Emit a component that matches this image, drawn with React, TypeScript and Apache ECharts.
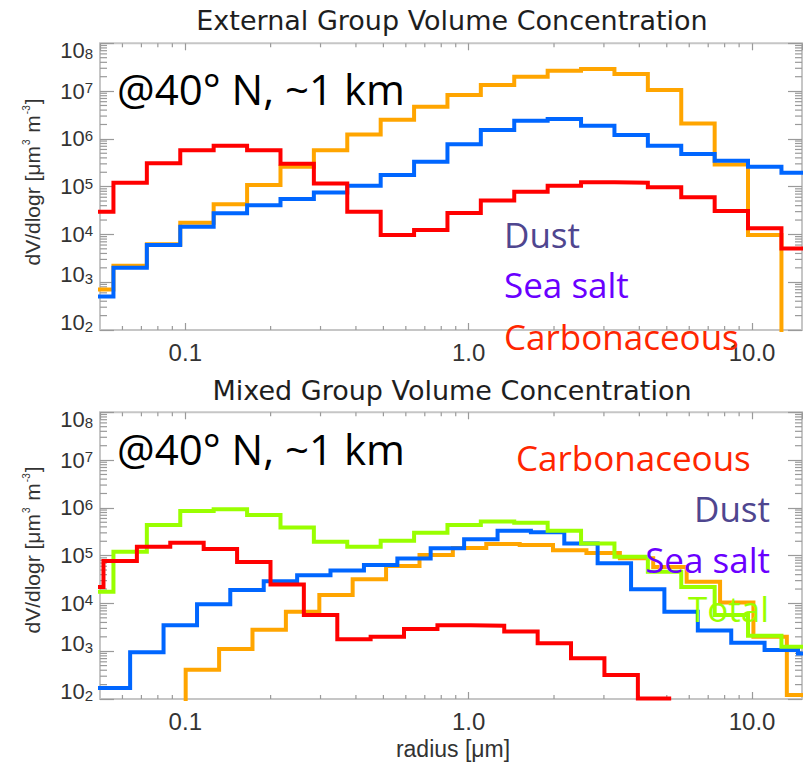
import React, { useEffect, useRef } from 'react';
import * as echarts from 'echarts';

// ---------- axis extents ----------
const xMin = 0.05;
const xMax = 15;
const yMin = 1e2;
const yMax = 1e8;

// ---------- tick values ----------
const xMinorTicks = [0.06, 0.07, 0.08, 0.09, 0.2, 0.3, 0.4, 0.5, 0.6, 0.7, 0.8, 0.9, 2, 3, 4, 5, 6, 7, 8, 9];
const yMinorMantissas = [2, 3, 4, 5, 6, 7, 8, 9];
const yDecades = [1e2, 1e3, 1e4, 1e5, 1e6, 1e7];

// ---------- External group (top panel) ----------
const extEdges = [0.04251, 0.05577, 0.07316, 0.09598, 0.1259, 0.1652, 0.2167, 0.2842, 0.3728, 0.4891, 0.6416, 0.8414, 1.1035, 1.4477, 1.8992, 2.4912, 3.2679, 4.2871, 5.6232, 7.3777, 9.6745, 12.693, 16.65];
const extDust = [700, 2200, 6200, 17600, 43000, 108000, 260000, 580000, 1240000, 2500000, 4700000, 8300000, 13400000, 20000000, 26700000, 29000000, 22800000, 10500000, 2100000, 290000, 9700, 1];
const extSeaSalt = [500, 2000, 6000, 14500, 27700, 41000, 55000, 75000, 105000, 175000, 330000, 770000, 1530000, 2400000, 2600000, 1890000, 1200000, 720000, 480000, 350000, 260000, 196000];
const extCarb = [30000, 121000, 310000, 580000, 720000, 580000, 300000, 117000, 30000, 9700, 12400, 28000, 51000, 78000, 105000, 123000, 121000, 97000, 60000, 31000, 13400, 5100];

// ---------- Mixed group (bottom panel) ----------
const mixTotalEdges = [0.04251, 0.05577, 0.07316, 0.09598, 0.1259, 0.1652, 0.2167, 0.2842, 0.3728, 0.4891, 0.6416, 0.8414, 1.1035, 1.4477, 1.8992, 2.4912, 3.2679, 4.2871, 5.6232, 7.3777, 9.6745, 12.693, 16.65];
const mixTotal = [17600, 121000, 440000, 860000, 930000, 710000, 390000, 196000, 154000, 206000, 300000, 440000, 520000, 490000, 330000, 180000, 95000, 46000, 22000, 5700, 2100, 1240];
const mixCarbEdges = [0.0392, 0.05143, 0.06747, 0.08849, 0.1161, 0.1523, 0.1998, 0.262, 0.3438, 0.4507, 0.5912, 0.7757, 1.0171, 1.3346, 1.751, 2.2961, 3.0124, 3.9532, 5.182];
const mixCarb = [22000, 77000, 154000, 187000, 138000, 74000, 25000, 5700, 1770, 2000, 2900, 3500, 3400, 2600, 1460, 710, 318, 102];
const mixSeaSaltEdges = [0.04866, 0.06387, 0.08379, 0.11, 0.1441, 0.1891, 0.2481, 0.3253, 0.4269, 0.5601, 0.7341, 0.9634, 1.2643, 1.6574, 2.1742, 2.8505, 3.7402, 4.9034, 6.4345, 8.4408, 11.066, 14.521, 19.055];
const mixSeaSalt = [170, 950, 3500, 9600, 19000, 29000, 39000, 49000, 64000, 87000, 142000, 220000, 330000, 310000, 180000, 69000, 19700, 6700, 2700, 1500, 1060, 900];
const mixDustEdges = [0.0765, 0.1003, 0.1316, 0.1726, 0.2264, 0.2971, 0.3895, 0.511, 0.6705, 0.879, 1.1534, 1.5135, 1.9839, 2.6027, 3.4155, 4.4781, 5.8749, 7.709, 10.107, 13.262, 17.4];
const mixDust = [1, 410, 1110, 2800, 6700, 15000, 32000, 61000, 103000, 145000, 175000, 167000, 130000, 113000, 88000, 58000, 28500, 10400, 2000, 121];

const COLORS = {
  dust: '#FFA500',
  seaSalt: '#0066FF',
  carb: '#FF0000',
  total: '#99FF00',
};

function stepPoints(edges: number[], values: number[]) {
  const pts: number[][] = values.map((v, i) => [edges[i], v]);
  pts.push([edges[values.length], values[values.length - 1]]);
  return pts;
}

const TICK_COLOR = '#9a9a9a';
const LABEL_COLOR = '#333';

function lineSeries(name: string, color: string, edges: number[], values: number[], gi: number, z: number) {
  return {
    type: 'line',
    name,
    step: 'end',
    xAxisIndex: gi * 2,
    yAxisIndex: gi * 2,
    data: stepPoints(edges, values),
    symbol: 'none',
    showSymbol: false,
    clip: true,
    z,
    lineStyle: { color, width: 4, cap: 'butt', join: 'miter' },
    emphasis: { disabled: true },
  };
}

function xMinorSeries(gi: number) {
  return {
    type: 'custom',
    xAxisIndex: gi * 2,
    yAxisIndex: gi * 2,
    silent: true,
    z: 1,
    data: xMinorTicks.map((v) => [v, 1000]),
    renderItem: (params: any, api: any) => {
      const cs = params.coordSys;
      const px = api.coord([api.value(0), api.value(1)])[0];
      const st = { stroke: TICK_COLOR, lineWidth: 1.2 };
      return {
        type: 'group',
        children: [
          { type: 'line', shape: { x1: px, y1: cs.y + cs.height, x2: px, y2: cs.y + cs.height - 4 }, style: st },
          { type: 'line', shape: { x1: px, y1: cs.y, x2: px, y2: cs.y + 4 }, style: st },
        ],
      };
    },
  };
}

function yMinorSeries(gi: number) {
  const vals: number[][] = [];
  yDecades.forEach((d) => yMinorMantissas.forEach((m) => vals.push([1, m * d])));
  return {
    type: 'custom',
    xAxisIndex: gi * 2,
    yAxisIndex: gi * 2,
    silent: true,
    z: 1,
    data: vals,
    renderItem: (params: any, api: any) => {
      const cs = params.coordSys;
      const py = api.coord([api.value(0), api.value(1)])[1];
      const st = { stroke: TICK_COLOR, lineWidth: 1.2 };
      return {
        type: 'group',
        children: [
          { type: 'line', shape: { x1: cs.x, y1: py, x2: cs.x + 7, y2: py }, style: st },
          { type: 'line', shape: { x1: cs.x + cs.width, y1: py, x2: cs.x + cs.width - 7, y2: py }, style: st },
        ],
      };
    },
  };
}

const yRich = {
  n: { fontSize: 22, fontFamily: 'Liberation Sans', color: LABEL_COLOR, lineHeight: 22 },
  s: { fontSize: 15, fontFamily: 'Liberation Sans', color: LABEL_COLOR, verticalAlign: 'top', lineHeight: 15 },
  nd: { fontSize: 22, fontFamily: 'Liberation Sans', color: LABEL_COLOR, lineHeight: 22, padding: [14, 0, 0, 0] },
  sd: { fontSize: 15, fontFamily: 'Liberation Sans', color: LABEL_COLOR, verticalAlign: 'top', lineHeight: 15, padding: [14, 0, 0, 0] },
  nu: { fontSize: 22, fontFamily: 'Liberation Sans', color: LABEL_COLOR, lineHeight: 22, padding: [0, 0, 16, 0] },
  su: { fontSize: 15, fontFamily: 'Liberation Sans', color: LABEL_COLOR, verticalAlign: 'top', lineHeight: 15, padding: [0, 0, 16, 0] },
};

function yLabelFormatter(v: number) {
  const e = Math.round(Math.log10(v));
  const k = e === 8 ? 'd' : e <= 3 ? 'u' : '';
  return `{n${k}|10}{s${k}|${e}}`;
}

export default function App() {
  const ref = useRef<HTMLDivElement>(null);
  useEffect(() => {
    if (!ref.current) return;
    const chart = echarts.init(ref.current, null, { renderer: 'svg' });
    const gridTops = [43.3, 412.3];
    const grid = gridTops.map((t) => ({
      left: 100,
      top: t,
      width: 702,
      height: 286.7,
      show: true,
      borderColor: '#c6c6c6',
      borderWidth: 2,
      backgroundColor: 'transparent',
      containLabel: false,
    }));
    const xAxis: any[] = [];
    const yAxis: any[] = [];
    [0, 1].forEach((gi) => {
      xAxis.push({
        type: 'log',
        logBase: 10,
        gridIndex: gi,
        position: 'bottom',
        min: xMin,
        max: xMax,
        axisLine: { show: false },
        splitLine: { show: false },
        axisTick: { show: true, inside: true, length: 7, lineStyle: { color: TICK_COLOR, width: 1.2 } },
        axisLabel: {
          show: true,
          margin: 10,
          fontSize: 24,
          fontFamily: 'Liberation Sans',
          color: LABEL_COLOR,
          showMinLabel: false,
          showMaxLabel: false,
          formatter: (v: number) => v.toFixed(1),
        },
      });
      xAxis.push({
        type: 'log',
        logBase: 10,
        gridIndex: gi,
        position: 'top',
        min: xMin,
        max: xMax,
        axisLine: { show: false },
        splitLine: { show: false },
        axisTick: { show: true, inside: true, length: 7, lineStyle: { color: TICK_COLOR, width: 1.2 } },
        axisLabel: { show: false },
      });
      yAxis.push({
        type: 'log',
        logBase: 10,
        gridIndex: gi,
        position: 'left',
        min: yMin,
        max: yMax,
        axisLine: { show: false },
        splitLine: { show: false },
        axisTick: { show: true, inside: true, length: 14, lineStyle: { color: TICK_COLOR, width: 1.2 } },
        axisLabel: { show: true, margin: 7, formatter: yLabelFormatter, rich: yRich },
      });
      yAxis.push({
        type: 'log',
        logBase: 10,
        gridIndex: gi,
        position: 'right',
        min: yMin,
        max: yMax,
        axisLine: { show: false },
        splitLine: { show: false },
        axisTick: { show: true, inside: true, length: 14, lineStyle: { color: TICK_COLOR, width: 1.2 } },
        axisLabel: { show: false },
      });
    });

    const series: any[] = [
      xMinorSeries(0),
      yMinorSeries(0),
      xMinorSeries(1),
      yMinorSeries(1),
      lineSeries('Dust', COLORS.dust, extEdges, extDust, 0, 3),
      lineSeries('Sea salt', COLORS.seaSalt, extEdges, extSeaSalt, 0, 4),
      lineSeries('Carbonaceous', COLORS.carb, extEdges, extCarb, 0, 5),
      lineSeries('Dust', COLORS.dust, mixDustEdges, mixDust, 1, 3),
      lineSeries('Sea salt', COLORS.seaSalt, mixSeaSaltEdges, mixSeaSalt, 1, 4),
      lineSeries('Total', COLORS.total, mixTotalEdges, mixTotal, 1, 5),
      lineSeries('Carbonaceous', COLORS.carb, mixCarbEdges, mixCarb, 1, 6),
    ];

    const titleFont = '27px "DejaVu Sans"';
    const locFont = '42px "Open Sans"';
    const legFont = '35px "Open Sans"';
    const yNameRich = {
      m: { fontSize: 21, fontFamily: 'Liberation Sans', fill: LABEL_COLOR },
      s: { fontSize: 10, fontFamily: 'Liberation Sans', fill: LABEL_COLOR, verticalAlign: 'top', padding: [0, 1, 0, 1] },
    } as any;
    const yNameText = '{m|dV/dlogr [\u03bcm}{s|3}{m| m}{s|-3}{m|]}';

    const graphic: any[] = [
      { type: 'text', z: 100, x: 452, y: 20, style: { text: 'External Group Volume Concentration', font: titleFont, fill: '#1e1e1e', align: 'center', verticalAlign: 'middle' } },
      { type: 'text', z: 100, x: 452, y: 390, style: { text: 'Mixed Group Volume Concentration', font: titleFont, fill: '#1e1e1e', align: 'center', verticalAlign: 'middle' } },
      { type: 'text', z: 100, x: 117, y: 88, style: { text: '@40\u00b0 N, ~1 km', font: locFont, fill: '#000', align: 'left', verticalAlign: 'middle' } },
      { type: 'text', z: 100, x: 117, y: 448, style: { text: '@40\u00b0 N, ~1 km', font: locFont, fill: '#000', align: 'left', verticalAlign: 'middle' } },
      { type: 'text', z: 100, x: 504, y: 234, style: { text: 'Dust', font: legFont, fill: '#4F468F', align: 'left', verticalAlign: 'middle' } },
      { type: 'text', z: 100, x: 504, y: 284, style: { text: 'Sea salt', font: legFont, fill: '#6A00FF', align: 'left', verticalAlign: 'middle' } },
      { type: 'text', z: 100, x: 504, y: 336, style: { text: 'Carbonaceous', font: legFont, fill: '#FF2600', align: 'left', verticalAlign: 'middle' } },
      { type: 'text', z: 100, x: 516, y: 457, style: { text: 'Carbonaceous', font: legFont, fill: '#FF2600', align: 'left', verticalAlign: 'middle' } },
      { type: 'text', z: 100, x: 770, y: 508, style: { text: 'Dust', font: legFont, fill: '#4F468F', align: 'right', verticalAlign: 'middle' } },
      { type: 'text', z: 100, x: 770, y: 559, style: { text: 'Sea salt', font: legFont, fill: '#6A00FF', align: 'right', verticalAlign: 'middle' } },
      { type: 'text', z: 100, x: 769, y: 608, style: { text: 'Total', font: legFont, fill: '#99FF00', align: 'right', verticalAlign: 'middle' } },
      { type: 'text', z: 100, x: 32, y: 182, rotation: Math.PI / 2, style: { text: yNameText, rich: yNameRich, align: 'center', verticalAlign: 'middle' } },
      { type: 'text', z: 100, x: 32, y: 550, rotation: Math.PI / 2, style: { text: yNameText, rich: yNameRich, align: 'center', verticalAlign: 'middle' } },
      { type: 'text', z: 100, x: 453, y: 749, style: { text: 'radius [\u03bcm]', font: '23px "Liberation Sans"', fill: LABEL_COLOR, align: 'center', verticalAlign: 'middle' } },
    ];

    chart.setOption({
      animation: false,
      backgroundColor: '#ffffff',
      textStyle: { fontFamily: 'Liberation Sans' },
      grid,
      xAxis,
      yAxis,
      series,
      graphic,
    });
    return () => chart.dispose();
  }, []);
  return <div ref={ref} style={{ position: 'absolute', left: 0, top: 0, width: 803, height: 762 }} />;
}
